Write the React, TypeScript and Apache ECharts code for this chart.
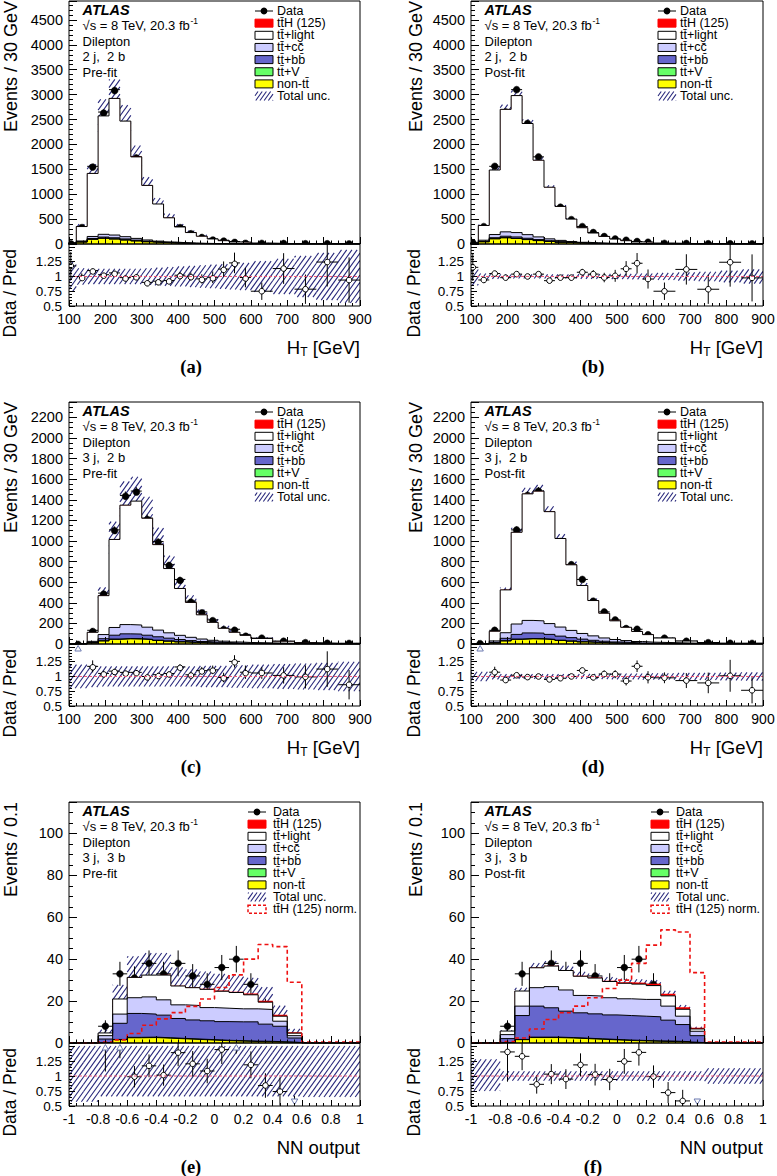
import React, { useEffect, useRef } from "react";
import * as echarts from "echarts";

// ---------------- binning ----------------
const HT_EDGES_2J = [90, 120, 150, 180, 210, 240, 270, 300, 330, 360, 390, 420, 450, 480, 510, 540, 570, 600, 660, 720, 780, 840, 900];
const HT_EDGES_3J = [100, 150, 180, 210, 240, 270, 300, 330, 360, 390, 420, 450, 480, 510, 540, 570, 600, 660, 720, 780, 840, 900];
const NN_EDGES = [-1, -0.9, -0.8, -0.7, -0.6, -0.5, -0.4, -0.3, -0.2, -0.1, 0, 0.1, 0.2, 0.3, 0.4, 0.5, 0.6, 0.7, 0.8, 0.9, 1];

// ---------------- tick labels ----------------
const HT_MAIN_TICKS_2J = [0, 500, 1000, 1500, 2000, 2500, 3000, 3500, 4000, 4500];
const HT_MAIN_TICKS_3J = [0, 200, 400, 600, 800, 1000, 1200, 1400, 1600, 1800, 2000, 2200];
const NN_MAIN_TICKS = [0, 20, 40, 60, 80, 100];
const RATIO_TICKS = [0.5, 0.75, 1, 1.25];

// ---------------- 2j 2b  (H_T) ----------------
const DATA_2J2B = [25, 350, 1560, 2650, 3100, 2420, 1750, 1060, 740, 490, 350, 230, 150, 100, 75, 50, 35, 13, 9.5, 5, 4.5, 3];
const NONTT_A = [1, 40, 95, 115, 100, 80, 62, 45, 32, 22, 15, 10, 7, 5, 3.5, 2.5, 2, 1.2, 0.6, 0.4, 0.2, 0.1];
const TTV_2J = [0, 0.5, 1.5, 2.5, 3, 3, 2.5, 2, 1.5, 1.2, 0.9, 0.7, 0.5, 0.4, 0.3, 0.2, 0.15, 0.1, 0.06, 0.04, 0.03, 0.02];
const BB_A = [0.2, 5, 15, 22, 22, 19, 14, 10, 7, 5, 3.5, 2.5, 1.7, 1.2, 0.9, 0.6, 0.45, 0.3, 0.15, 0.1, 0.06, 0.04];
const CC_A = [0.3, 15, 40, 55, 55, 45, 34, 24, 17, 12, 8, 5.5, 4, 2.7, 1.9, 1.3, 1, 0.7, 0.35, 0.22, 0.12, 0.08];
const LIGHT_A = [19.7, 290, 1266, 2378, 2744, 2321, 1637, 1096, 746, 486, 315, 211, 143, 92, 60, 36, 32, 15, 7.2, 5.6, 3.2, 2.95];
const TTH_2J = [0, 0.05, 0.2, 0.4, 0.6, 0.6, 0.6, 0.5, 0.4, 0.3, 0.25, 0.18, 0.13, 0.1, 0.07, 0.05, 0.04, 0.03, 0.015, 0.01, 0.006, 0.004];
const UNC_A = [0.25, 0.14, 0.13, 0.13, 0.13, 0.13, 0.13, 0.14, 0.15, 0.16, 0.17, 0.18, 0.19, 0.2, 0.21, 0.22, 0.23, 0.26, 0.3, 0.35, 0.4, 0.45];

const NONTT_B = [1, 45, 105, 125, 110, 88, 68, 50, 35, 24, 16, 11, 7.5, 5.5, 3.8, 2.7, 2.2, 1.3, 0.65, 0.45, 0.22, 0.11];
const BB_B = [0.25, 6.5, 19.5, 28.6, 28.6, 24.7, 18.2, 13, 9.1, 6.5, 4.5, 3.2, 2.2, 1.6, 1.2, 0.8, 0.6, 0.4, 0.2, 0.13, 0.08, 0.05];
const CC_B = [0.5, 24, 64, 88, 88, 72, 54, 38, 27, 19, 13, 9, 6.4, 4.3, 3, 2.1, 1.6, 1.1, 0.56, 0.35, 0.19, 0.13];
const LIGHT_B = [19.9, 296, 1296, 2460, 2751, 2232, 1540, 1037, 682, 449, 292, 197, 136, 87, 58, 35, 32, 14.4, 7, 5.4, 3.1, 2.76];
const UNC_B = [0.15, 0.05, 0.04, 0.035, 0.035, 0.035, 0.035, 0.035, 0.035, 0.035, 0.04, 0.04, 0.04, 0.045, 0.045, 0.05, 0.05, 0.06, 0.07, 0.08, 0.1, 0.12];

// ---------------- 3j 2b  (H_T) ----------------
const DATA_3J2B = [3, 133, 494, 1108, 1443, 1485, 1222, 995, 770, 627, 416, 312, 234, 150, 143, 90, 57, 27, 13, 7, 6];
const NONTT_3J = [0.3, 10, 30, 45, 50, 48, 42, 34, 27, 20, 15, 11, 8, 6, 4, 3, 2, 1.2, 0.6, 0.35, 0.2];
const TTV_3J = [0, 0.5, 1.5, 2.5, 3.5, 3.5, 3.3, 3, 2.6, 2.2, 1.8, 1.4, 1.1, 0.9, 0.7, 0.5, 0.4, 0.25, 0.15, 0.1, 0.06];
const BB_C = [0.05, 5, 20, 38, 45, 45, 40, 33, 27, 21, 16, 12, 9, 7, 5, 3.8, 2.8, 1.7, 0.9, 0.5, 0.3];
const CC_C = [0.05, 10, 40, 75, 90, 88, 78, 65, 52, 41, 32, 24, 18, 13.5, 10, 7.5, 5.5, 3.3, 1.7, 1.0, 0.6];
const LIGHT_C = [0.05, 88, 378, 855, 1160, 1203, 1058, 830, 624, 455, 339, 235, 174, 125, 94, 69, 43, 20, 9.7, 4.25, 5.8];
const TTH_3J = [0, 0.05, 0.3, 0.6, 0.9, 1.0, 1.0, 0.9, 0.8, 0.7, 0.55, 0.45, 0.35, 0.27, 0.2, 0.15, 0.12, 0.07, 0.04, 0.02, 0.012];
const UNC_C = [0.2, 0.18, 0.17, 0.17, 0.17, 0.17, 0.17, 0.17, 0.17, 0.17, 0.17, 0.18, 0.18, 0.18, 0.19, 0.19, 0.2, 0.21, 0.22, 0.23, 0.25];

const BB_D = [0.06, 6, 24, 45.6, 54, 54, 48, 39.6, 32.4, 25.2, 19.2, 14.4, 10.8, 8.4, 6, 4.6, 3.4, 2, 1.1, 0.6, 0.36];
const CC_D = [0.07, 13.5, 54, 101, 121.5, 119, 105, 88, 70, 55, 43, 32, 24, 18, 13.5, 10, 7.4, 4.5, 2.3, 1.35, 0.8];
const LIGHT_D = [0.05, 94, 416, 891, 1229, 1260, 1087, 860, 637, 466, 343, 240, 181, 129, 97.5, 73, 45, 21, 10.4, 4.5, 6.4];
const UNC_D = [0.08, 0.05, 0.04, 0.04, 0.04, 0.04, 0.04, 0.04, 0.04, 0.04, 0.045, 0.045, 0.05, 0.05, 0.05, 0.055, 0.055, 0.06, 0.06, 0.065, 0.07];

// ---------------- 3j 3b  (NN output) ----------------
const DATA_3J3B = [0, 0, 8, 33, 31, 38, 33, 38, 32, 28, 36, 40, 28, 17, 10, 2, 0, 0, 0, 0];
const NONTT_E = [0, 0, 0.3, 1.6, 2.5, 2.6, 2.3, 2.0, 1.7, 1.4, 1.1, 0.9, 0.7, 0.6, 0.4, 0.2, 0, 0, 0, 0];
const TTV_NN = [0, 0, 0, 0.1, 0.2, 0.2, 0.2, 0.2, 0.2, 0.2, 0.2, 0.2, 0.2, 0.2, 0.15, 0.05, 0, 0, 0, 0];
const BB_E = [0, 0, 1.6, 7.7, 11.4, 11, 10.8, 9.5, 9.1, 9.0, 8.9, 9.0, 9.2, 8.2, 7.45, 2.15, 0, 0, 0, 0];
const CC_E = [0, 0, 1.6, 4.4, 7.5, 8.2, 7.3, 6.5, 6.9, 6.3, 6.4, 6.2, 6.2, 7, 2.4, 1.1, 0, 0, 0, 0];
const LIGHT_E = [0, 0, 1.3, 7.2, 9.7, 10.4, 11.8, 9.0, 8.5, 8.7, 8.1, 7.8, 6.7, 3.5, 2.4, 1.2, 0, 0, 0, 0];
const TTH_E = [0, 0, 0.01, 0.03, 0.07, 0.1, 0.13, 0.15, 0.2, 0.25, 0.3, 0.4, 0.6, 0.7, 0.7, 0.4, 0, 0, 0, 0];
const NORM_E = [0, 0, 0.5, 1.5, 4.5, 8.5, 11.5, 14.5, 17.5, 21, 26.5, 32.5, 40, 47, 46, 29, 0.5, 0.5, 0.5, 0.5];
const UNC_E = 0.32;
const RATIO_LO_E = [0.57, 0.57, 0.66, 0.66, 0.66, 0.66, 0.66, 0.66, 0.66, 0.66, 0.66, 0.66, 0.66, 0.66, 0.66, 0.66, 0.65, 0.65, 0.65, 0.65];
const RATIO_HI_E = [1.5, 1.5, 1.5, 1.5, 1.5, 1.5, 1.5, 1.5, 1.5, 1.5, 1.5, 1.5, 1.5, 1.5, 1.5, 1.5, 1.5, 1.5, 1.5, 1.5];

const NONTT_F = [0, 0, 0.3, 1.6, 2.6, 2.6, 2.4, 2.1, 1.8, 1.5, 1.2, 1.0, 0.8, 0.7, 0.5, 0.2, 0, 0, 0, 0];
const BB_F = [0, 0, 1.8, 11.4, 14.8, 14, 12.6, 12.1, 11.9, 11.7, 11.7, 11.6, 11.5, 10, 8.15, 3.25, 0, 0, 0, 0];
const CC_F = [0, 0, 1.9, 4.5, 8.8, 10.1, 10.1, 8.3, 8.5, 8.2, 8, 8, 8.3, 6.7, 4, 2.1, 0, 0, 0, 0];
const LIGHT_F = [0, 0, 1.7, 7.2, 9.5, 9.8, 9.3, 9.15, 8.6, 7.75, 7.4, 7.3, 6.6, 4.9, 3.3, 1.1, 0, 0, 0, 0];
const TTH_F = [0, 0, 0.01, 0.05, 0.1, 0.15, 0.2, 0.22, 0.3, 0.38, 0.45, 0.6, 0.9, 1.0, 1.0, 0.6, 0, 0, 0, 0];
const NORM_F = [0, 0, 0.7, 2.4, 6.7, 11.2, 14.4, 17.6, 21.6, 26, 30, 38, 46.7, 54, 53, 33.6, 0.5, 0.5, 0.5, 0.5];
const UNC_F = 0.06;
const RATIO_LO_F = [0.75, 0.75, 0.92, 0.92, 0.92, 0.92, 0.92, 0.92, 0.92, 0.92, 0.92, 0.92, 0.92, 0.92, 0.92, 0.92, 0.87, 0.87, 0.87, 0.87];
const RATIO_HI_F = [1.28, 1.28, 1.08, 1.08, 1.08, 1.08, 1.08, 1.08, 1.08, 1.08, 1.08, 1.08, 1.08, 1.08, 1.08, 1.08, 1.13, 1.13, 1.13, 1.13];

// ---------------- texts ----------------
const TB = "t\u0304";
const LEGEND_TEXT = ["Data", `t${TB}H (125)`, `t${TB}+light`, `t${TB}+cc\u0304`, `t${TB}+bb\u0304`, `t${TB}+V`, `non-t${TB}`, "Total unc.", `t${TB}H (125) norm.`];
const CAPTIONS = ["(a)", "(b)", "(c)", "(d)", "(e)", "(f)"];

// ---------------- style ----------------
const FONT = "'Liberation Sans', Arial, Helvetica, sans-serif";
const SERIF = "'Liberation Serif', 'Times New Roman', serif";
const HATCH = "#26267a";
const FILLS = ["#ffff00", "#66ff66", "#6666cc", "#ccccff", "#ffffff", "#ff0000"];
const TRI = "#6b79b0";
const R_MIN = 0.5;
const R_MAX = 1.55;

const COL_LEFT = [69, 471];
const COL_W = [291, 292];
const ROW_TOP = [1, 402, 802];
const MAIN_H = [243, 242, 241];
const RATIO_H = [62, 62, 63];
const YTITLE_X = [10.5, 416];
const RTITLE_X = [9.5, 414];
const CAPTION_X = [191, 593];

const constArr = (n: number, v: number) => new Array(n).fill(v);

interface PanelDef {
  region: string; fit: string; edges: number[]; binNorm: number; data: number[];
  comps: number[][]; mainLo: number[]; mainHi: number[]; ratioLo: number[]; ratioHi: number[];
  norm?: number[]; yMax: number; yInt: number; yMinor: number; yTicks: number[];
  xMin: number; xMax: number; xInt: number; xMinor: number; yTitle: string; nn: boolean;
}

const htPanel = (region: string, fit: string, edges: number[], data: number[], comps: number[][], unc: number[], yMax: number, yInt: number, yMinor: number, yTicks: number[]): PanelDef => ({
  region, fit, edges, binNorm: 30, data, comps,
  mainLo: unc.map((u) => 1 - u), mainHi: unc.map((u) => 1 + u),
  ratioLo: unc.map((u) => 1 - u), ratioHi: unc.map((u) => 1 + u),
  yMax, yInt, yMinor, yTicks, xMin: 100, xMax: 900, xInt: 100, xMinor: 5, yTitle: "Events / 30 GeV", nn: false,
});

const PANELS: PanelDef[] = [
  htPanel("2 j,  2 b", "Pre-fit", HT_EDGES_2J, DATA_2J2B, [NONTT_A, TTV_2J, BB_A, CC_A, LIGHT_A, TTH_2J], UNC_A, 4880, 500, 5, HT_MAIN_TICKS_2J),
  htPanel("2 j,  2 b", "Post-fit", HT_EDGES_2J, DATA_2J2B, [NONTT_B, TTV_2J, BB_B, CC_B, LIGHT_B, TTH_2J], UNC_B, 4880, 500, 5, HT_MAIN_TICKS_2J),
  htPanel("3 j,  2 b", "Pre-fit", HT_EDGES_3J, DATA_3J2B, [NONTT_3J, TTV_3J, BB_C, CC_C, LIGHT_C, TTH_3J], UNC_C, 2350, 200, 4, HT_MAIN_TICKS_3J),
  htPanel("3 j,  2 b", "Post-fit", HT_EDGES_3J, DATA_3J2B, [NONTT_3J, TTV_3J, BB_D, CC_D, LIGHT_D, TTH_3J], UNC_D, 2350, 200, 4, HT_MAIN_TICKS_3J),
  {
    region: "3 j,  3 b", fit: "Pre-fit", edges: NN_EDGES, binNorm: 0.1, data: DATA_3J3B,
    comps: [NONTT_E, TTV_NN, BB_E, CC_E, LIGHT_E, TTH_E],
    mainLo: constArr(20, 1 - UNC_E), mainHi: constArr(20, 1 + UNC_E), ratioLo: RATIO_LO_E, ratioHi: RATIO_HI_E,
    norm: NORM_E, yMax: 115, yInt: 20, yMinor: 4, yTicks: NN_MAIN_TICKS, xMin: -1, xMax: 1, xInt: 0.2, xMinor: 4,
    yTitle: "Events / 0.1", nn: true,
  },
  {
    region: "3 j,  3 b", fit: "Post-fit", edges: NN_EDGES, binNorm: 0.1, data: DATA_3J3B,
    comps: [NONTT_F, TTV_NN, BB_F, CC_F, LIGHT_F, TTH_F],
    mainLo: constArr(20, 1 - UNC_F), mainHi: constArr(20, 1 + UNC_F), ratioLo: RATIO_LO_F, ratioHi: RATIO_HI_F,
    norm: NORM_F, yMax: 115, yInt: 20, yMinor: 4, yTicks: NN_MAIN_TICKS, xMin: -1, xMax: 1, xInt: 0.2, xMinor: 4,
    yTitle: "Events / 0.1", nn: true,
  },
];

// ---------------- helpers ----------------
let measureCtx: CanvasRenderingContext2D | null = null;
function textWidth(text: string, font: string) {
  if (!measureCtx) measureCtx = document.createElement("canvas").getContext("2d");
  if (!measureCtx) return text.length * 7;
  measureCtx.font = font;
  return measureCtx.measureText(text).width;
}

function stepPts(edges: number[], vals: number[]) {
  const pts: number[][] = [[edges[0], 0]];
  for (let i = 0; i < vals.length; i++) {
    pts.push([edges[i], vals[i]]);
    pts.push([edges[i + 1], vals[i]]);
  }
  pts.push([edges[edges.length - 1], 0]);
  return pts;
}

function ln(x1: number, y1: number, x2: number, y2: number, color = "#000", w = 1, dash?: number[]) {
  return { type: "line", shape: { x1, y1, x2, y2 }, style: { stroke: color, lineWidth: w, lineDash: dash } };
}

function hatchLines(xa: number, xb: number, ya: number, yb: number, spacingX: number, k: number, color: string, w: number) {
  const out: any[] = [];
  const S = spacingX * k;
  const cMin = k * xa + ya;
  const cMax = k * xb + yb;
  for (let c = Math.ceil(cMin / S) * S; c <= cMax; c += S) {
    const lx = Math.max(xa, (c - yb) / k);
    const rx = Math.min(xb, (c - ya) / k);
    if (rx - lx > 0.15) out.push(ln(lx, c - k * lx, rx, c - k * rx, color, w));
  }
  return out;
}

function hatchRender(params: any, api: any) {
  const cs = params.coordSys;
  const p0 = api.coord([api.value(0), api.value(2)]);
  const p1 = api.coord([api.value(1), api.value(3)]);
  const xa = Math.max(Math.min(p0[0], p1[0]), cs.x);
  const xb = Math.min(Math.max(p0[0], p1[0]), cs.x + cs.width);
  const ya = Math.max(Math.min(p0[1], p1[1]), cs.y);
  const yb = Math.min(Math.max(p0[1], p1[1]), cs.y + cs.height);
  if (xb <= xa || yb <= ya) return { type: "group", children: [] };
  return { type: "group", children: hatchLines(xa, xb, ya, yb, 5.2, 1.4, HATCH, 1.1) };
}

function dataRender(params: any, api: any) {
  const cs = params.coordSys;
  const xl = api.value(0), xr = api.value(1), y = api.value(2), e = api.value(3);
  const xc = (xl + xr) / 2;
  const [px, py] = api.coord([xc, y]);
  const pl = Math.max(api.coord([xl, y])[0], cs.x);
  const pr = Math.min(api.coord([xr, y])[0], cs.x + cs.width);
  const pu = Math.max(api.coord([xc, y + e])[1], cs.y);
  const pd = Math.min(api.coord([xc, y - e])[1], cs.y + cs.height);
  return {
    type: "group",
    children: [
      ln(pl, py, pr, py),
      ln(px, pu, px, pd),
      { type: "circle", shape: { cx: px, cy: py, r: 3.4 }, style: { fill: "#000", stroke: "#000", lineWidth: 0.5 } },
    ],
  };
}

function ratioRender(params: any, api: any) {
  const cs = params.coordSys;
  const top = cs.y, bot = cs.y + cs.height;
  const xl = api.value(0), xr = api.value(1), r = api.value(2), e = api.value(3);
  const xc = (xl + xr) / 2;
  const px = api.coord([xc, 1])[0];
  const pl = Math.max(api.coord([xl, 1])[0], cs.x);
  const pr = Math.min(api.coord([xr, 1])[0], cs.x + cs.width);
  const children: any[] = [];
  if (r > R_MAX) {
    const yLow = api.coord([xc, r - e])[1];
    if (yLow > top + 7) children.push(ln(px, top + 7, px, Math.min(yLow, bot)));
    children.push({ type: "polygon", shape: { points: [[px, top + 1.5], [px - 3.2, top + 7], [px + 3.2, top + 7]] }, style: { fill: "#fff", stroke: TRI, lineWidth: 1 } });
  } else if (r < R_MIN) {
    const yUp = api.coord([xc, r + e])[1];
    if (yUp < bot - 7) children.push(ln(px, Math.max(yUp, top), px, bot - 7));
    children.push({ type: "polygon", shape: { points: [[px, bot - 1.5], [px - 3.2, bot - 7], [px + 3.2, bot - 7]] }, style: { fill: "#fff", stroke: TRI, lineWidth: 1 } });
  } else {
    const py = api.coord([xc, r])[1];
    const pu = Math.max(api.coord([xc, r + e])[1], top);
    const pd = Math.min(api.coord([xc, r - e])[1], bot);
    children.push(ln(pl, py, pr, py));
    children.push(ln(px, pu, px, pd));
    children.push({ type: "circle", shape: { cx: px, cy: py, r: 2.8 }, style: { fill: "#fff", stroke: "#000", lineWidth: 1 } });
  }
  return { type: "group", children };
}

function txt(x: number, y: number, text: string, o: any = {}) {
  const align = o.align || "left";
  const va = o.va || "middle";
  const style: any = {
    text, fill: o.color || "#000", fontFamily: o.family || FONT, fontSize: o.size || 13,
    fontWeight: o.weight || "normal", fontStyle: o.fstyle || "normal",
    align, verticalAlign: va, textAlign: align, textVerticalAlign: va,
  };
  if (o.lineHeight) style.lineHeight = o.lineHeight;
  return { type: "text", x, y, rotation: o.rotation || 0, silent: true, z: 30, style };
}

function buildOption() {
  const grid: any[] = [];
  const xAxis: any[] = [];
  const yAxis: any[] = [];
  const series: any[] = [];
  const elements: any[] = [];

  PANELS.forEach((p, idx) => {
    const col = idx % 2;
    const row = Math.floor(idx / 2);
    const left = COL_LEFT[col];
    const width = COL_W[col];
    const right = left + width;
    const top = ROW_TOP[row];
    const mh = MAIN_H[row];
    const rh = RATIO_H[row];
    const rTop = top + mh;
    const rBot = rTop + rh;
    const gMain = idx * 2;
    const gRatio = idx * 2 + 1;
    const nb = p.edges.length - 1;

    grid.push({ left, top, width, height: mh, show: true, borderColor: "#000", borderWidth: 1, backgroundColor: "transparent", z: 10, outerBoundsMode: "none", containLabel: false });
    grid.push({ left, top: rTop, width, height: rh, show: true, borderColor: "#000", borderWidth: 1, backgroundColor: "transparent", z: 10, outerBoundsMode: "none", containLabel: false });

    const xBase = (gi: number, labels: boolean, tickLen: number) => ({
      gridIndex: gi, type: "value", min: p.xMin, max: p.xMax, interval: p.xInt, z: 10, position: "bottom",
      axisLine: { show: false, onZero: false },
      axisTick: { show: true, inside: true, length: tickLen, lineStyle: { color: "#000", width: 1 } },
      minorTick: { show: true, splitNumber: p.xMinor, length: tickLen / 2, lineStyle: { color: "#000", width: 1 } },
      splitLine: { show: false }, minorSplitLine: { show: false },
      axisLabel: labels
        ? {
            show: true, color: "#000", fontFamily: FONT, fontSize: 14, margin: 6, showMinLabel: true, showMaxLabel: true, hideOverlap: false,
            formatter: (v: number) => (p.nn ? String(Math.round(v * 10) / 10) : String(Math.round(v))),
          }
        : { show: false },
    });
    xAxis.push(xBase(gMain, false, 7));
    xAxis.push(xBase(gRatio, true, 6));

    yAxis.push({
      gridIndex: gMain, type: "value", min: 0, max: p.yMax, interval: p.yInt, z: 10, position: "left",
      axisLine: { show: false, onZero: false },
      axisTick: { show: true, inside: true, length: 8, lineStyle: { color: "#000", width: 1 } },
      minorTick: { show: true, splitNumber: p.yMinor, length: 4, lineStyle: { color: "#000", width: 1 } },
      splitLine: { show: false },
      axisLabel: {
        show: true, color: "#000", fontFamily: FONT, fontSize: 14.5, margin: 6, showMaxLabel: false, showMinLabel: true, hideOverlap: false,
        formatter: (v: number) => (p.yTicks.some((t) => Math.abs(t - v) < 1e-6) ? String(Math.round(v)) : ""),
      },
    });
    yAxis.push({
      gridIndex: gRatio, type: "value", min: R_MIN, max: R_MAX, interval: 0.25, z: 10, position: "left",
      axisLine: { show: false, onZero: false },
      axisTick: { show: true, inside: true, length: 6, lineStyle: { color: "#000", width: 1 } },
      minorTick: { show: true, splitNumber: 5, length: 3, lineStyle: { color: "#000", width: 1 } },
      splitLine: { show: false },
      axisLabel: {
        show: true, color: "#000", fontFamily: FONT, fontSize: 13.5, margin: 7, showMaxLabel: false, showMinLabel: true, hideOverlap: false,
        formatter: (v: number) => (RATIO_TICKS.some((t) => Math.abs(t - v) < 1e-6) ? String(Math.round(v * 100) / 100) : ""),
      },
    });

    // cumulative stack
    const cum: number[][] = [];
    let run = new Array(nb).fill(0);
    p.comps.forEach((c) => {
      run = run.map((v, i) => v + c[i]);
      cum.push(run.slice());
    });
    const total = cum[cum.length - 1];

    for (let j = cum.length - 1; j >= 0; j--) {
      const isTop = j === cum.length - 1;
      series.push({
        type: "line", xAxisIndex: gMain, yAxisIndex: gMain, data: stepPts(p.edges, cum[j]),
        symbol: "none", showSymbol: false, silent: true, clip: true, smooth: false,
        lineStyle: { color: isTop ? "#ff0000" : "#000", width: isTop ? 0 : 1, opacity: isTop ? 0 : 1 },
        areaStyle: { color: FILLS[j], opacity: 1, origin: "start" },
      });
    }

    // main uncertainty band
    const bandRows: number[][] = [];
    for (let i = 0; i < nb; i++) {
      if (total[i] > 0) bandRows.push([p.edges[i], p.edges[i + 1], total[i] * p.mainLo[i], total[i] * p.mainHi[i]]);
    }
    series.push({ type: "custom", xAxisIndex: gMain, yAxisIndex: gMain, data: bandRows, renderItem: hatchRender, clip: true, silent: true, encode: { x: [0, 1], y: [2, 3] } });

    if (p.norm) {
      series.push({
        type: "line", xAxisIndex: gMain, yAxisIndex: gMain, data: stepPts(p.edges, p.norm),
        symbol: "none", showSymbol: false, silent: true, clip: true,
        lineStyle: { color: "#ee1111", width: 1.6, type: [4, 3] },
      });
    }

    // data points
    const dataRows: number[][] = [];
    const ratioRows: number[][] = [];
    for (let i = 0; i < nb; i++) {
      const v = p.data[i];
      if (v <= 0) continue;
      const w = p.edges[i + 1] - p.edges[i];
      const err = Math.sqrt((v * p.binNorm) / w);
      dataRows.push([p.edges[i], p.edges[i + 1], v, err]);
      if (total[i] > 0) ratioRows.push([p.edges[i], p.edges[i + 1], v / total[i], err / total[i]]);
    }
    series.push({ type: "custom", xAxisIndex: gMain, yAxisIndex: gMain, data: dataRows, renderItem: dataRender, clip: true, silent: true, encode: { x: [0, 1], y: 2 } });

    // ratio
    const rBand: number[][] = [];
    for (let i = 0; i < nb; i++) rBand.push([p.edges[i], p.edges[i + 1], p.ratioLo[i], p.ratioHi[i]]);
    series.push({ type: "custom", xAxisIndex: gRatio, yAxisIndex: gRatio, data: rBand, renderItem: hatchRender, clip: true, silent: true, encode: { x: [0, 1], y: [2, 3] } });
    series.push({
      type: "line", xAxisIndex: gRatio, yAxisIndex: gRatio, data: [[p.xMin, 1], [p.xMax, 1]],
      symbol: "none", showSymbol: false, silent: true, lineStyle: { color: "#ee5577", width: 1, type: [3, 2] },
    });
    series.push({ type: "custom", xAxisIndex: gRatio, yAxisIndex: gRatio, data: ratioRows, renderItem: ratioRender, clip: true, silent: true, encode: { x: [0, 1], y: 2 } });

    // ---------- texts ----------
    elements.push(txt(YTITLE_X[col], top, p.yTitle, { size: 18, rotation: Math.PI / 2, align: "right" }));
    elements.push(txt(RTITLE_X[col], rTop + 5, "Data / Pred", { size: 17.5, rotation: Math.PI / 2, align: "right" }));

    const xtY = rBot + 41;
    if (p.nn) {
      elements.push(txt(right, xtY, "NN output", { size: 18.5, align: "right" }));
    } else {
      const fBig = `18.5px ${FONT}`;
      const wRest = textWidth(" [GeV]", fBig);
      const wT = textWidth("T", `12px ${FONT}`);
      elements.push(txt(right, xtY, " [GeV]", { size: 18.5, align: "right" }));
      elements.push(txt(right - wRest, xtY + 5, "T", { size: 12, align: "right" }));
      elements.push(txt(right - wRest - wT, xtY, "H", { size: 18.5, align: "right" }));
    }
    elements.push(txt(CAPTION_X[col], rBot + 61, CAPTIONS[idx], { size: 18.5, family: SERIF, weight: "bold", align: "center" }));

    // ATLAS block
    const ax = left + 13.5;
    elements.push(txt(ax, top + 8.5, "ATLAS", { size: 14.5, weight: "bold", fstyle: "italic", lineHeight: 14 }));
    const sLine = "\u221As = 8 TeV, 20.3 fb";
    elements.push(txt(ax, top + 24, sLine, { size: 13, lineHeight: 13 }));
    elements.push(txt(ax + textWidth(sLine, `13px ${FONT}`) + 0.5, top + 20, "-1", { size: 8.5, lineHeight: 8 }));
    elements.push(txt(ax, top + 40, "Dilepton", { size: 13, lineHeight: 13 }));
    elements.push(txt(ax, top + 55.5, p.region, { size: 13, lineHeight: 13 }));
    elements.push(txt(ax, top + 71, p.fit, { size: 13, lineHeight: 13 }));

    // legend
    const nEntries = p.nn ? 9 : 8;
    const mx = p.nn ? right - 112 : right - 105;
    const tx = p.nn ? right - 87 : right - 83;
    const mw = 18;
    const boxFill = ["", FILLS[5], FILLS[4], FILLS[3], FILLS[2], FILLS[1], FILLS[0]];
    for (let k = 0; k < nEntries; k++) {
      const cy = top + 10 + 12.15 * k;
      if (k === 0) {
        elements.push({ type: "group", silent: true, z: 30, children: [ln(mx, cy, mx + mw, cy), { type: "circle", shape: { cx: mx + mw / 2, cy, r: 3.4 }, style: { fill: "#000" } }] });
      } else if (k <= 6) {
        elements.push({ type: "rect", silent: true, z: 30, shape: { x: mx, y: cy - 4, width: mw, height: 8 }, style: { fill: boxFill[k], stroke: k === 1 ? "#ff0000" : "#000", lineWidth: 1 } });
      } else if (k === 7) {
        elements.push({ type: "group", silent: true, z: 30, children: hatchLines(mx, mx + mw, cy - 4.5, cy + 4.5, 4.2, 1.4, HATCH, 1.1) });
      } else {
        elements.push({ type: "rect", silent: true, z: 30, shape: { x: mx, y: cy - 4, width: mw, height: 8 }, style: { fill: "#fff", stroke: "#ee1111", lineWidth: 1.5, lineDash: [3, 2] } });
      }
      elements.push(txt(tx, cy, LEGEND_TEXT[k], { size: 12.5, lineHeight: 11.5 }));
    }
  });

  return {
    animation: false,
    backgroundColor: "#ffffff",
    textStyle: { fontFamily: FONT },
    grid, xAxis, yAxis, series,
    graphic: { elements },
  };
}

export default function App() {
  const ref = useRef<HTMLDivElement>(null);
  useEffect(() => {
    if (!ref.current) return;
    const chart = echarts.init(ref.current, undefined, { renderer: "svg", width: 777, height: 1176 });
    chart.setOption(buildOption() as any);
    return () => chart.dispose();
  }, []);
  return <div ref={ref} style={{ position: "absolute", left: 0, top: 0, width: 777, height: 1176, background: "#fff" }} />;
}
